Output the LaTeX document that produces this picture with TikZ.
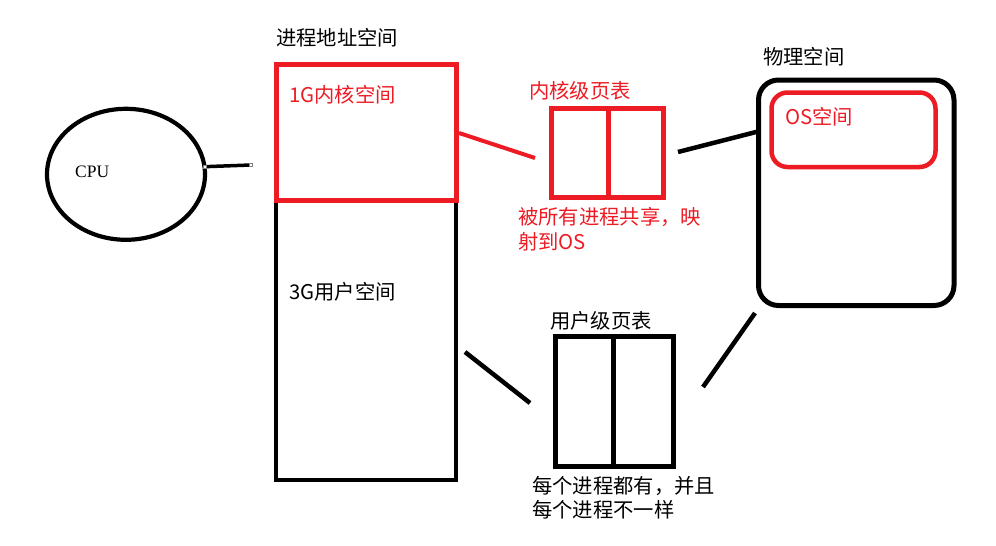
\documentclass[tikz,border=0pt]{standalone}
\usepackage{fontspec}
\setmainfont{Liberation Serif}
\newfontfamily\cjk{Noto Sans CJK SC}
\usetikzlibrary{shapes.geometric}
\definecolor{pred}{RGB}{237,28,36}
\tikzset{
  lbl/.style={anchor=west,inner sep=0pt,font=\cjk\fontsize{20.3}{25}\selectfont},
  blk/.style={draw=black,line width=4.5pt},
  rbx/.style={draw=pred,line width=5pt},
  wire/.style={line width=4.5pt},
  handle/.style={draw=gray,fill=white,line width=0.6pt,minimum size=3pt,inner sep=0pt}
}
\begin{document}
\begin{tikzpicture}[x=1pt,y=-1pt]
\useasboundingbox[fill=white] (0,0) rectangle (996,546);
% CPU
\node[ellipse,draw,line width=4.2pt,minimum width=158pt,minimum height=131pt] (cpu) at (126,174.3) {};
\node[anchor=west,inner sep=0pt,font=\fontsize{17.5}{20}\selectfont] (cputxt) at (75,171.5) {CPU};
\coordinate (c1) at (204.3,166.7);
\coordinate (c2) at (251,165);
\draw[line width=3.5pt] (c1) -- (c2);
\node[handle] (h1) at (c1) {};
\node[handle] (h2) at (c2) {};
% process address space
\draw[blk] (276,64) rectangle (456,480);
\draw[rbx] (276,64) rectangle (456.5,200);
\node[lbl] (t1) at (276,37.5) {进程地址空间};
\node[lbl,text=pred] (t2) at (289,94.7) {1G内核空间};
\node[lbl] (t3) at (289,292) {3G用户空间};
% kernel page table
\node[rbx,minimum width=57.5pt,minimum height=89pt,inner sep=0pt] (kt1) at (579.75,153) {};
\node[rbx,minimum width=54.5pt,minimum height=89pt,inner sep=0pt] (kt2) at (635.75,153) {};
\node[lbl,text=pred] (t4) at (529,90.5) {内核级页表};
\node[lbl,text=pred] (t5) at (518,216.5) {被所有进程共享，映};
\node[lbl,text=pred] (t6) at (518,242) {射到OS};
\coordinate (r1) at (459,133);
\coordinate (r2) at (535,158);
\draw[wire,draw=pred,line width=4pt] (r1) -- (r2);
\coordinate (k1) at (678,152);
\coordinate (k2) at (760,131);
\draw[wire] (k1) -- (k2);
% physical space
\draw[blk,line width=5pt,rounded corners=20pt] (758.5,80) rectangle (954,305.5);
\draw[rbx,line width=4.5pt,rounded corners=16pt] (771.5,92.5) rectangle (935.5,167);
\node[lbl] (t7) at (763,57) {物理空间};
\node[lbl,text=pred] (t8) at (785,116.5) {OS空间};
% user page table
\node[blk,line width=5pt,minimum width=58.5pt,minimum height=130pt,inner sep=0pt] (ut1) at (584.25,401) {};
\node[blk,line width=5pt,minimum width=60pt,minimum height=130pt,inner sep=0pt] (ut2) at (643.5,401) {};
\node[lbl] (t9) at (550,321) {用户级页表};
\node[lbl] (t10) at (532,486) {每个进程都有，并且};
\node[lbl] (t11) at (532,510) {每个进程不一样};
\coordinate (u1) at (465,352);
\coordinate (u2) at (530,403);
\draw[wire] (u1) -- (u2);
\coordinate (u3) at (703,387);
\coordinate (u4) at (755,313);
\draw[wire] (u3) -- (u4);
\end{tikzpicture}
\end{document}
